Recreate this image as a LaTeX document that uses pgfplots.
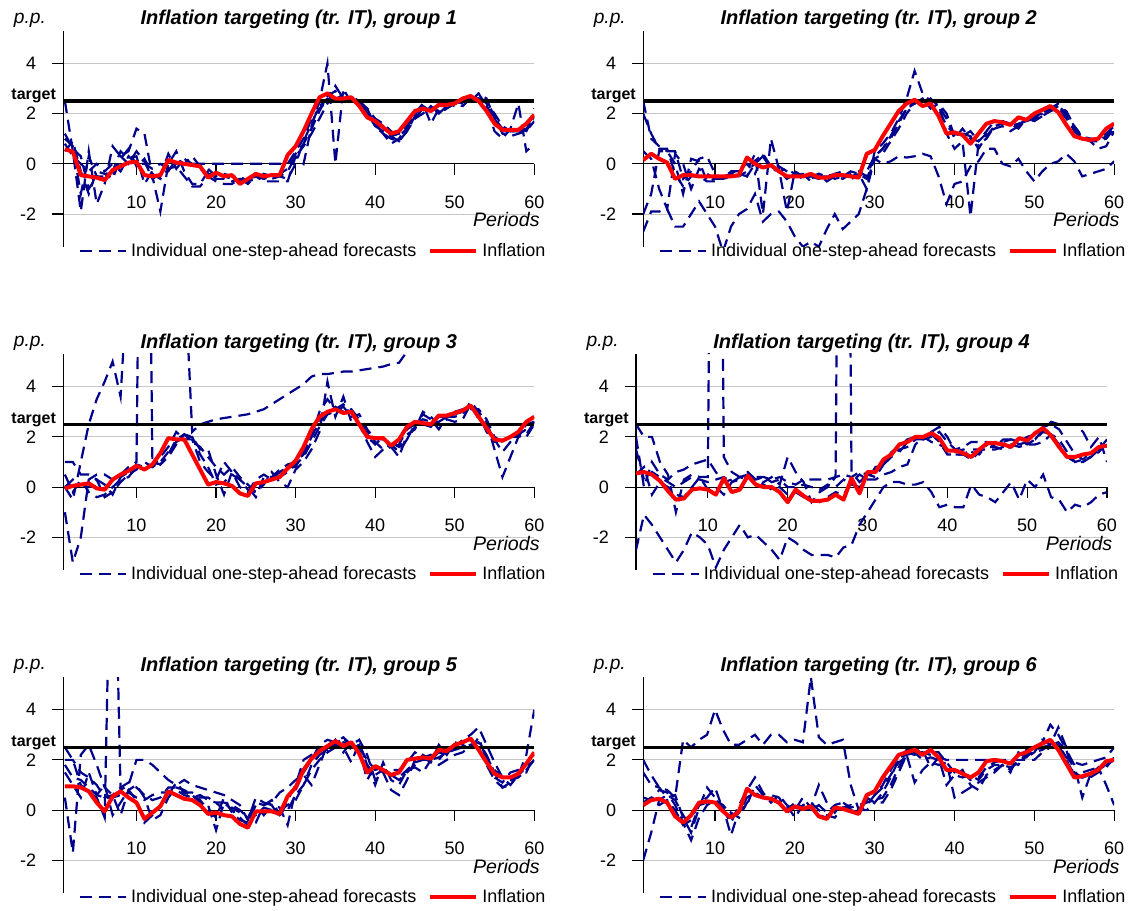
\documentclass[border=0pt]{standalone}
\usepackage{fontspec}
\setmainfont{Liberation Sans}
\usepackage{pgfplots}
\usepackage{pgfplotstable}
\pgfplotsset{compat=1.18}
\definecolor{fc}{RGB}{0,0,139}
\tikzset{fcl/.style={color=fc, line width=1.1pt, dash pattern=on 6pt off 3.5pt}}

\pgfplotstableread{
x i a b c d e
1 0.58 1.2 2.5 1.0 0.8 0.5
2 0.48 0.6 0.5 0.7 0.3 0.9
3 -0.45 0.3 -1.9 -1.2 0.0 -0.3
4 -0.50 -1.0 0.5 0.3 -0.3 -1.2
5 -0.55 -0.5 -1.6 -0.5 0.0 -0.3
6 -0.65 -0.6 -0.8 -0.5 -0.3 -0.4
7 -0.25 -0.5 0.7 -0.3 0.0 -0.6
8 -0.10 0.3 0.3 0.5 -0.3 0.2
9 0.05 0.0 0.5 0.2 0.3 0.6
10 0.08 0.5 1.4 0.3 0.0 -0.1
11 -0.45 0.1 1.2 -0.8 0.0 0.2
12 -0.50 -0.6 -0.5 -0.3 -0.2 -0.4
13 -0.45 -0.4 -1.9 -0.5 0.0 -0.6
14 0.15 -0.3 0.0 0.4 -0.2 -0.2
15 0.05 0.2 0.5 -0.2 0.0 -0.1
16 0.00 0.0 -0.3 0.2 0.0 -0.5
17 -0.05 0.3 -0.8 0.0 0.0 -0.9
18 -0.10 -0.1 -0.8 -0.2 0.0 -0.9
19 -0.55 -0.2 -0.3 -0.4 0.0 -0.5
20 -0.35 -0.5 -0.6 -0.4 0.0 -0.7
21 -0.50 -0.4 -0.6 -0.5 0.0 -0.8
22 -0.45 -0.5 -0.7 -0.6 0.0 -0.8
23 -0.80 -0.5 -0.6 -0.7 0.0 -0.6
24 -0.60 -0.7 -0.6 -0.7 0.0 -0.8
25 -0.40 -0.6 -0.5 -0.5 0.0 -0.5
26 -0.50 -0.4 -0.7 -0.5 0.0 -0.6
27 -0.45 -0.5 -0.7 -0.6 0.0 -0.5
28 -0.45 -0.4 -0.7 -0.5 0.0 -0.5
29 0.35 -0.2 -0.7 -0.3 0.0 -0.6
30 0.70 0.4 0.3 0.3 0.5 0.0
31 1.30 0.8 0.0 0.7 1.0 0.9
32 2.00 1.4 1.5 1.2 1.8 1.6
33 2.65 2.1 2.5 1.8 2.2 2.3
34 2.80 2.7 4.0 2.4 2.5 2.6
35 2.60 2.9 0.0 3.1 2.6 2.5
36 2.60 2.6 3.0 2.6 2.7 2.8
37 2.65 2.6 2.4 2.5 2.6 2.5
38 2.30 2.5 2.5 2.6 2.3 2.4
39 1.85 2.2 2.0 2.0 2.0 2.2
40 1.70 1.8 1.5 1.6 1.8 1.5
41 1.45 1.6 1.2 1.2 1.5 1.3
42 1.20 1.3 0.8 1.0 1.1 1.1
43 1.30 1.1 1.0 0.9 1.2 0.9
44 1.70 1.4 1.5 1.3 1.5 1.3
45 2.10 1.8 2.0 1.9 2.0 1.8
46 2.20 2.2 2.4 2.3 2.2 2.0
47 2.10 2.2 1.6 2.1 2.2 2.3
48 2.35 2.1 2.2 2.0 2.3 2.0
49 2.35 2.4 2.4 2.3 2.3 2.2
50 2.40 2.4 2.3 2.5 2.4 2.4
51 2.60 2.5 2.5 2.4 2.5 2.3
52 2.70 2.6 2.7 2.5 2.6 2.6
53 2.50 2.7 2.8 2.8 2.6 2.6
54 2.10 2.4 2.3 2.6 2.3 2.5
55 1.60 2.0 1.3 1.8 1.8 1.9
56 1.35 1.5 1.0 1.3 1.4 1.2
57 1.35 1.3 1.4 1.3 1.3 1.1
58 1.35 1.3 2.4 1.4 1.3 1.2
59 1.60 1.4 0.5 1.3 1.3 1.3
60 1.95 1.8 0.8 1.9 2.2 1.7
}\tA

\pgfplotstableread{
x i a b c d e
1 0.15 2.5 -2.7 2.0 0.5 -2.0
2 0.40 1.0 -1.9 1.2 0.2 -1.2
3 0.20 0.7 -1.9 0.6 -1.0 0.5
4 0.05 0.5 -1.8 0.6 -1.8 0.5
5 -0.60 0.5 -2.5 -0.4 0.4 0.0
6 -0.45 -0.6 -2.5 -0.9 0.0 -1.2
7 -0.45 -0.3 -2.0 -0.5 -1.0 0.2
8 -0.50 0.2 -1.5 -0.5 -0.2 0.1
9 -0.50 0.3 -2.0 -0.7 -0.4 -0.7
10 -0.50 -0.4 -2.5 -0.7 -0.6 -0.6
11 -0.50 -0.6 -3.5 -0.5 -0.5 -0.6
12 -0.50 -0.5 -2.5 -0.5 -0.4 -0.3
13 -0.45 -0.5 -2.0 -0.4 -0.2 -0.3
14 0.25 -0.3 -1.8 -0.5 0.0 -0.5
15 0.00 0.4 -1.2 0.1 -0.4 0.0
16 -0.15 -2.0 -2.3 0.4 0.3 0.3
17 -0.05 1.0 -2.0 -0.1 -0.2 -0.1
18 -0.30 -0.2 -1.9 -0.1 -0.3 -0.3
19 -0.50 -1.9 -2.3 -0.3 -0.2 -0.6
20 -0.50 -0.3 -2.9 -0.5 -0.4 -0.4
21 -0.50 -0.5 -3.3 -0.5 -0.6 -0.4
22 -0.40 -0.6 -3.1 -0.5 -0.5 -0.7
23 -0.55 -0.4 -3.3 -0.6 -0.4 -0.5
24 -0.55 -0.5 -2.6 -0.4 -0.7 -0.5
25 -0.45 -0.4 -2.0 -0.6 -0.5 -0.4
26 -0.45 -0.3 -2.6 -0.5 -0.6 -0.5
27 -0.50 -0.5 -2.3 -0.3 -0.4 -0.6
28 -0.55 -0.4 -2.0 -0.4 -0.3 -0.5
29 0.40 -1.0 -1.0 -0.6 -0.5 -0.3
30 0.55 0.5 0.2 0.2 0.3 0.3
31 1.10 0.8 0.0 0.4 0.6 0.6
32 1.60 1.2 0.1 0.9 1.0 1.1
33 2.10 1.8 0.3 1.4 1.6 1.7
34 2.40 2.6 0.25 2.0 2.2 2.2
35 2.55 3.7 0.3 2.4 2.5 2.4
36 2.30 2.8 0.4 2.6 2.4 2.6
37 2.40 2.5 0.3 2.2 2.6 2.3
38 1.90 2.4 -0.5 2.4 2.3 2.2
39 1.20 1.2 -1.6 2.0 1.8 1.5
40 1.25 0.6 -0.8 1.1 1.0 1.2
41 1.15 0.9 -0.7 1.2 1.4 1.1
42 0.80 -2.1 -0.1 1.1 1.0 1.3
43 1.20 0.8 0.1 0.6 0.9 0.9
44 1.60 1.0 0.6 1.1 1.3 1.2
45 1.70 1.5 0.6 1.5 1.7 1.4
46 1.65 1.6 0.0 1.7 1.7 1.5
47 1.55 1.6 -0.1 1.6 1.5 1.3
48 1.85 1.4 0.2 1.5 1.6 1.5
49 1.75 1.8 -0.3 1.8 1.7 1.7
50 2.00 1.8 -0.7 1.7 1.9 1.8
51 2.15 2.0 -0.3 1.9 2.0 1.9
52 2.30 2.2 0.0 2.1 2.2 2.1
53 2.05 2.3 0.1 2.3 2.4 2.2
54 1.55 2.0 0.4 2.1 1.9 1.8
55 1.10 1.5 0.1 1.5 1.3 1.4
56 1.00 1.1 -0.5 1.0 1.0 1.1
57 0.95 0.9 -0.4 0.9 1.0 1.0
58 1.00 0.6 -0.3 0.9 0.9 1.0
59 1.40 0.7 -0.2 1.0 1.1 1.2
60 1.60 1.3 0.1 1.4 1.5 1.5
}\tB

\pgfplotstableread{
x i a b c d e
1 -0.05 0.0 -1.0 1.0 0.5 0.0
2 0.05 -0.5 -3.0 1.0 -0.2 0.3
3 0.10 1.0 -2.0 0.5 0.3 0.1
4 0.15 2.5 0.3 0.5 -0.2 0.0
5 -0.05 3.5 0.5 0.3 -0.4 0.3
6 -0.10 4.2 0.5 -0.4 -0.3 0.1
7 0.30 5.0 0.3 -0.2 0.0 -0.3
8 0.50 3.6 0.5 0.2 0.3 0.4
9 0.65 9.0 0.8 0.5 0.4 0.6
10 0.85 9.0 1.0 0.7 0.8 0.9
11 0.70 9.0 30.0 1.0 0.7 0.8
12 0.90 9.0 1.0 0.8 1.0 0.8
13 1.35 9.0 0.9 1.0 0.9 1.2
14 1.95 9.0 1.3 1.4 1.2 1.6
15 1.90 9.0 1.9 1.8 1.7 2.2
16 1.90 9.0 2.1 2.0 2.1 1.9
17 1.30 2.2 2.0 2.0 1.8 1.9
18 0.70 2.5 1.5 1.3 1.6 1.0
19 0.10 2.6 1.5 0.8 1.2 0.6
20 0.20 2.7 0.5 0.1 0.8 0.3
21 0.15 2.75 -0.3 0.2 0.5 1.0
22 0.05 2.8 0.6 0.5 0.8 0.6
23 -0.25 2.85 0.3 0.3 0.4 0.0
24 -0.35 2.9 0.0 -0.1 0.1 -0.2
25 0.15 3.0 -0.4 -0.2 -0.2 0.3
26 0.20 3.1 0.4 0.2 0.1 0.5
27 0.30 3.3 0.4 0.3 0.6 0.3
28 0.40 3.5 0.7 0.4 0.2 0.6
29 0.75 3.7 0.9 0.6 0.0 0.8
30 1.05 3.9 1.0 0.9 0.7 0.8
31 1.60 4.1 1.3 1.2 1.0 1.4
32 2.30 4.4 2.0 1.8 1.5 2.0
33 2.80 4.5 3.0 2.4 2.2 2.6
34 3.00 4.5 3.5 2.9 4.2 2.9
35 3.10 4.55 3.1 3.0 2.8 3.2
36 2.95 4.6 3.3 3.2 3.6 3.0
37 3.00 4.6 3.0 2.8 2.6 3.1
38 2.50 4.65 2.7 2.9 2.5 2.7
39 2.00 4.7 2.2 2.3 1.8 2.0
40 1.95 4.75 1.8 1.9 1.2 1.7
41 1.95 4.8 1.5 1.9 1.5 2.0
42 1.65 4.9 1.7 1.8 1.6 1.5
43 1.90 4.95 1.4 1.6 1.2 1.7
44 2.40 5.4 1.9 1.9 2.1 2.3
45 2.60 8.0 2.4 2.5 2.3 2.5
46 2.55 8.0 2.9 2.7 3.0 2.5
47 2.50 8.0 2.7 2.6 2.8 2.4
48 2.85 8.0 2.3 2.6 2.5 2.8
49 2.85 8.0 2.8 2.8 2.7 2.8
50 2.95 8.0 2.8 2.9 2.6 3.0
51 3.05 8.0 2.9 3.0 2.7 3.1
52 3.25 8.0 3.4 3.1 3.3 3.2
53 2.80 8.0 3.0 3.1 2.7 2.9
54 2.35 8.0 2.6 2.7 2.5 2.2
55 1.90 8.0 1.5 2.0 1.9 1.8
56 1.85 8.0 0.4 1.8 1.4 1.9
57 2.00 8.0 1.2 2.0 1.8 2.0
58 2.20 8.0 2.0 2.0 2.1 2.0
59 2.60 8.0 2.5 2.0 2.3 2.1
60 2.80 8.0 2.6 2.5 2.6 2.6
}\tC

\pgfplotstableread{
x i a b c d e
1 0.55 -2.5 2.5 2.0 0.5 1.5
2 0.60 -1.1 2.0 0.0 0.8 0.3
3 0.50 -1.5 2.0 1.0 -0.3 0.6
4 0.25 -2.0 1.0 0.5 0.2 0.4
5 -0.15 -2.5 0.5 0.3 0.0 0.2
6 -0.50 -3.0 -1.0 0.6 -0.3 0.0
7 -0.45 -2.5 0.3 0.7 -0.4 0.2
8 -0.10 -1.8 0.5 0.9 0.0 0.4
9 -0.05 -2.0 0.4 1.0 0.4 0.3
10 -0.10 -2.3 0.4 1.1 -0.1 0.2
11 -0.30 -3.2 40 0.6 0.0 0.3
12 0.35 -2.5 1.2 0.2 -0.3 0.4
13 -0.20 -2.0 0.6 0.3 0.2 0.2
14 -0.10 -1.5 0.4 0.4 0.3 0.4
15 0.45 -2.0 0.6 0.5 0.4 0.3
16 0.10 -1.9 0.3 0.4 0.2 0.3
17 0.00 -2.2 0.2 0.4 0.1 0.4
18 0.00 -2.5 0.4 0.3 -0.1 0.2
19 -0.20 -2.9 0.1 0.4 0.0 0.3
20 -0.60 -2.0 1.2 0.2 -0.3 0.0
21 -0.10 -2.2 0.6 0.1 -0.2 0.0
22 -0.35 -2.5 0.2 0.3 -0.4 0.1
23 -0.55 -2.7 -0.6 0.3 -0.5 0.0
24 -0.55 -2.7 -0.2 0.3 -0.6 -0.1
25 -0.50 -2.7 0.0 0.3 -0.4 0.1
26 -0.30 -2.8 0.4 0.4 -0.2 0.0
27 -0.50 -2.4 40 0.5 -0.3 0.3
28 0.35 -2.3 0.6 0.4 0.2 0.1
29 -0.25 -1.5 0.2 0.6 0.5 0.0
30 0.60 -1.0 0.5 0.5 0.3 0.3
31 0.60 -0.5 0.7 0.4 0.8 0.3
32 1.10 0.0 1.0 0.9 0.9 0.5
33 1.30 0.2 1.3 1.4 1.2 0.6
34 1.70 0.2 1.4 1.6 1.5 0.8
35 1.80 0.1 1.8 1.9 1.6 0.9
36 2.00 0.1 1.9 2.0 1.9 1.7
37 2.00 0.2 2.0 1.9 1.9 2.0
38 2.15 -0.2 2.2 2.0 2.1 1.8
39 1.95 -0.8 2.4 2.2 1.8 1.7
40 1.45 -0.7 2.0 1.8 1.3 1.5
41 1.45 -0.8 1.4 1.5 1.3 1.3
42 1.35 -0.8 1.5 1.6 1.3 1.3
43 1.20 0.1 1.4 1.8 1.1 1.5
44 1.50 -0.3 1.3 1.8 1.4 1.5
45 1.75 -0.4 1.7 1.8 1.6 1.5
46 1.75 -0.6 1.8 1.6 1.6 1.5
47 1.70 -0.2 1.8 1.9 1.5 1.6
48 1.60 0.2 1.9 1.9 1.6 1.7
49 1.95 -0.5 1.8 1.7 1.9 1.6
50 1.85 0.3 2.0 1.8 1.7 1.7
51 2.15 0.0 2.1 1.9 1.9 1.7
52 2.35 0.5 2.4 2.3 2.2 1.8
53 2.05 -0.4 2.5 2.6 2.1 2.1
54 1.60 -0.5 2.3 2.5 1.7 1.9
55 1.20 -1.0 1.8 2.5 1.2 1.4
56 1.20 -0.7 1.3 2.5 1.0 1.0
57 1.30 -0.8 1.1 2.2 1.0 1.1
58 1.35 -0.6 1.4 1.6 1.2 1.2
59 1.60 -0.3 1.5 2.0 1.4 1.5
60 1.65 -0.2 1.6 1.0 1.8 1.9
}\tD

\pgfplotstableread{
x i a b c d e
1 0.95 2.5 0.5 1.8 1.5 2.0
2 0.95 2.0 -1.7 1.3 1.0 2.0
3 0.90 1.0 2.2 1.2 0.5 1.5
4 0.75 0.7 2.6 0.9 1.5 1.3
5 0.30 0.5 1.8 0.6 0.6 1.0
6 -0.05 -0.3 0.9 0.5 1.0 0.5
7 0.55 15 0.6 0.5 -0.2 0.6
8 0.75 0.8 -0.2 0.6 0.3 0.9
9 0.50 1.0 0.8 0.7 0.8 1.1
10 0.30 2.0 1.0 0.5 0.4 0.9
11 -0.35 2.0 0.5 0.4 -0.5 0.6
12 -0.10 1.8 -0.4 0.6 -0.2 0.4
13 0.15 1.5 -0.2 0.7 0.2 0.5
14 0.75 1.2 0.5 0.7 0.6 0.9
15 0.60 1.0 0.9 0.8 1.1 0.9
16 0.45 1.2 0.8 0.6 0.7 0.7
17 0.40 1.0 0.6 0.5 0.6 0.7
18 0.20 0.9 0.3 0.6 0.4 0.5
19 -0.15 0.8 0.2 0.4 0.0 0.5
20 -0.10 0.7 -0.8 0.3 -0.3 0.3
21 -0.20 0.6 0.3 0.0 0.5 0.3
22 -0.25 0.4 0.0 0.1 -0.1 0.2
23 -0.55 0.2 -0.3 -0.1 -0.4 0.0
24 -0.70 -0.4 -0.6 -0.3 -0.5 -0.3
25 -0.05 0.5 -0.5 -0.2 0.2 0.3
26 -0.05 0.3 0.2 0.1 -0.2 0.2
27 -0.05 0.2 0.4 0.0 0.2 0.3
28 -0.15 0.1 -0.2 0.0 -0.3 0.7
29 0.55 -0.6 0.0 0.2 0.4 0.9
30 0.90 0.8 0.6 0.4 1.0 1.2
31 1.60 1.5 1.0 1.0 2.0 1.4
32 2.05 2.0 1.8 1.6 2.2 1.0
33 2.35 2.6 2.2 2.0 2.5 1.8
34 2.55 2.8 2.4 2.3 2.4 2.6
35 2.75 2.7 2.6 2.5 2.8 2.6
36 2.55 2.9 2.5 2.7 2.3 2.9
37 2.70 2.6 1.9 2.6 2.7 2.4
38 2.25 2.8 2.7 2.5 2.4 2.6
39 1.50 2.2 1.8 2.0 1.2 1.8
40 1.75 1.2 1.0 1.6 1.8 1.4
41 1.60 1.5 1.9 1.7 1.5 1.6
42 1.40 0.8 1.2 1.4 1.6 1.4
43 1.50 0.6 1.0 1.3 1.6 1.2
44 2.00 1.2 1.6 1.6 1.9 1.5
45 2.05 2.0 1.7 1.9 2.3 1.8
46 2.10 2.1 1.5 2.0 2.1 2.2
47 2.05 2.2 2.0 2.0 1.9 2.0
48 2.40 2.0 1.8 2.1 2.6 2.3
49 2.35 2.4 2.0 2.3 2.2 2.2
50 2.60 2.5 2.2 2.4 2.7 2.6
51 2.70 2.8 2.3 2.5 2.6 2.7
52 2.85 3.0 2.6 2.6 2.4 2.8
53 2.40 3.3 2.7 2.5 2.9 2.5
54 1.90 2.6 2.2 2.1 2.0 1.8
55 1.45 1.9 1.5 1.6 1.3 1.2
56 1.30 1.3 0.9 1.3 1.1 0.9
57 1.30 1.0 1.1 1.2 1.5 1.0
58 1.45 1.4 1.4 1.3 1.6 1.5
59 1.85 2.2 1.7 1.6 1.8 1.5
60 2.30 4.0 2.0 2.0 2.3 2.2
}\tE

\pgfplotstableread{
x i a b c d e
1 0.20 2.0 1.5 0.5 0.3 -2.0
2 0.40 1.4 1.0 0.4 0.5 -0.9
3 0.45 0.9 0.9 0.8 0.2 0.4
4 0.30 0.8 0.5 0.7 0.4 0.6
5 -0.25 0.5 0.6 0.2 0.0 0.4
6 -0.50 2.8 -0.3 -0.5 -0.6 -0.2
7 -0.20 2.5 -0.9 -1.2 -0.4 -0.7
8 0.30 2.8 0.1 -0.3 0.3 0.2
9 0.35 3.0 0.9 0.2 0.5 0.3
10 0.30 4.0 0.5 0.4 0.9 0.3
11 -0.05 3.2 0.1 0.2 0.0 0.1
12 -0.30 2.6 -1.0 -0.2 -0.5 -0.1
13 -0.05 2.6 0.0 -0.1 0.2 -0.3
14 0.85 2.8 0.2 0.5 0.8 0.3
15 0.60 3.0 1.0 0.7 1.3 0.6
16 0.50 2.6 0.6 0.5 0.7 0.5
17 0.45 3.0 0.5 0.4 0.3 0.6
18 0.30 3.0 0.3 0.3 0.6 0.5
19 -0.05 2.7 0.2 -0.1 0.2 0.0
20 0.15 2.8 -0.3 0.1 0.0 0.3
21 0.05 2.7 0.2 0.0 0.5 0.1
22 0.15 5.3 0.3 0.1 0.1 0.0
23 -0.25 2.9 0.0 -0.2 1.0 0.2
24 -0.35 2.6 -0.2 -0.3 0.3 -0.1
25 0.10 2.7 -0.3 0.0 -0.1 0.2
26 0.05 2.8 0.1 0.1 0.3 0.3
27 -0.05 1.0 0.2 0.0 0.1 0.0
28 -0.15 0.0 0.0 -0.1 0.2 -0.1
29 0.60 0.5 0.0 0.2 0.3 0.4
30 0.75 0.3 0.3 0.6 0.4 0.6
31 1.30 0.3 0.7 1.0 0.5 0.9
32 1.75 0.8 1.3 1.6 1.0 1.4
33 2.20 1.5 2.0 2.1 1.7 1.9
34 2.30 2.2 2.4 2.2 2.3 2.1
35 2.40 1.1 2.5 2.3 2.2 2.3
36 2.20 1.6 2.2 2.3 2.4 2.0
37 2.40 1.9 2.3 2.2 1.7 2.1
38 2.10 1.8 2.3 2.1 2.1 2.0
39 1.60 1.9 1.9 2.0 1.0 1.6
40 1.60 0.5 1.5 2.0 1.4 1.4
41 1.45 0.7 1.5 2.0 1.6 1.3
42 1.30 0.9 1.2 2.0 1.0 1.4
43 1.50 1.1 1.3 2.0 0.8 1.2
44 1.95 1.3 1.7 2.0 1.4 1.6
45 2.00 1.5 1.9 2.0 1.6 1.8
46 1.95 1.8 2.0 2.0 1.8 1.8
47 1.85 1.6 1.9 2.0 1.5 1.7
48 2.20 2.0 1.8 2.0 2.3 1.9
49 2.30 2.1 2.4 2.0 2.1 2.2
50 2.50 2.4 2.5 2.0 2.3 2.3
51 2.65 2.5 2.7 2.3 2.8 2.4
52 2.80 2.6 3.4 2.5 2.6 2.6
53 2.40 2.7 3.0 2.6 3.3 2.6
54 1.85 2.4 2.4 2.1 2.5 2.0
55 1.30 1.8 1.3 1.9 1.5 1.4
56 1.35 0.5 1.5 1.8 1.3 1.3
57 1.45 1.4 1.6 1.9 1.3 1.4
58 1.60 1.7 1.7 2.0 1.5 1.6
59 1.95 1.0 1.8 2.1 1.7 1.8
60 2.00 0.2 2.0 2.5 2.1 2.0
}\tF

\pgfplotsset{
  every axis title shift=0pt,
  panel/.style={
    scale only axis, width=235.5pt, height=108pt,
    xmax=60, ymin=-3.3, ymax=5.3,
    axis x line=middle, axis y line=left,
    axis line style={-, line width=0.6pt, black},
    clip mode=individual,
    xtick={10,20,30,40,50,60}, xticklabels={10,20,30,40,50,60},
    ytick={-2,0,2,4}, yticklabels={-2,0,2,4},
    tick align=outside, major tick length=5.5pt,
    tick style={black, line width=0.6pt},
    hide obscured x ticks=false, hide obscured y ticks=false,
    ymajorgrids, grid style={black!22, line width=0.5pt},
    ticklabel style={font=\fontsize{9}{10.8}\selectfont},
    xticklabel style={yshift=-7pt},
    yticklabel style={xshift=-4.5pt},
    title style={font=\fontsize{10}{12}\selectfont\bfseries\itshape, at={(0.5,1)}, anchor=base, yshift=2.9pt},
    legend style={draw=none, fill=none, at={(0.0325,-0.02)}, anchor=west,
      font=\fontsize{9}{10.8}\selectfont, inner sep=0pt,
      /tikz/every even column/.append style={column sep=4pt}},
    legend columns=2, legend cell align=left,
    legend image code/.code={\draw[##1] (0pt,0pt) -- (17pt,0pt); \path (0pt,0pt) -- (23pt,0pt);},
  }
}

\newcommand{\panel}[4]{%
\begin{axis}[panel, at={#3}, anchor=south west, xmin=#4,
  title={Inflation targeting (tr. IT), group #2}]
\addplot[fcl] table[x=x,y=a]{#1};
\addlegendentry{Individual one-step-ahead forecasts}
\addplot[fcl, forget plot] table[x=x,y=b]{#1};
\addplot[fcl, forget plot] table[x=x,y=c]{#1};
\addplot[fcl, forget plot] table[x=x,y=d]{#1};
\addplot[fcl, forget plot] table[x=x,y=e]{#1};
\addplot[black, line width=1.6pt, forget plot] coordinates {(#4,2.5) (60,2.5)};
\addplot[red, line width=2pt, line join=round] table[x=x,y=i]{#1};
\addlegendentry{Inflation}
\node[anchor=base east, inner sep=0pt, font=\fontsize{9.6}{11}\selectfont\itshape, xshift=-8.5pt, yshift=3.7pt] at (rel axis cs:0,1) {p.p.};
\node[anchor=base east, inner sep=0pt, font=\fontsize{8}{9.6}\selectfont\bfseries, xshift=-3.5pt] at (axis cs:#4,2.55) {target};
\node[anchor=base east, inner sep=0pt, font=\fontsize{9.8}{11.5}\selectfont\itshape, xshift=2.85pt] at (axis cs:60,-2.51) {Periods};
\end{axis}}

\begin{document}
\begin{tikzpicture}
\useasboundingbox (0,0) rectangle (565.5pt,455.5pt);
\panel{\tA}{1}{(31.65pt,332.15pt)}{0.8}
\panel{\tB}{2}{(321.6pt,332.15pt)}{1}
\panel{\tC}{3}{(31.65pt,170.5pt)}{0.8}
\panel{\tD}{4}{(318pt,170.5pt)}{1}
\panel{\tE}{5}{(31.65pt,9pt)}{0.8}
\panel{\tF}{6}{(321.6pt,9pt)}{1}
\end{tikzpicture}
\end{document}
